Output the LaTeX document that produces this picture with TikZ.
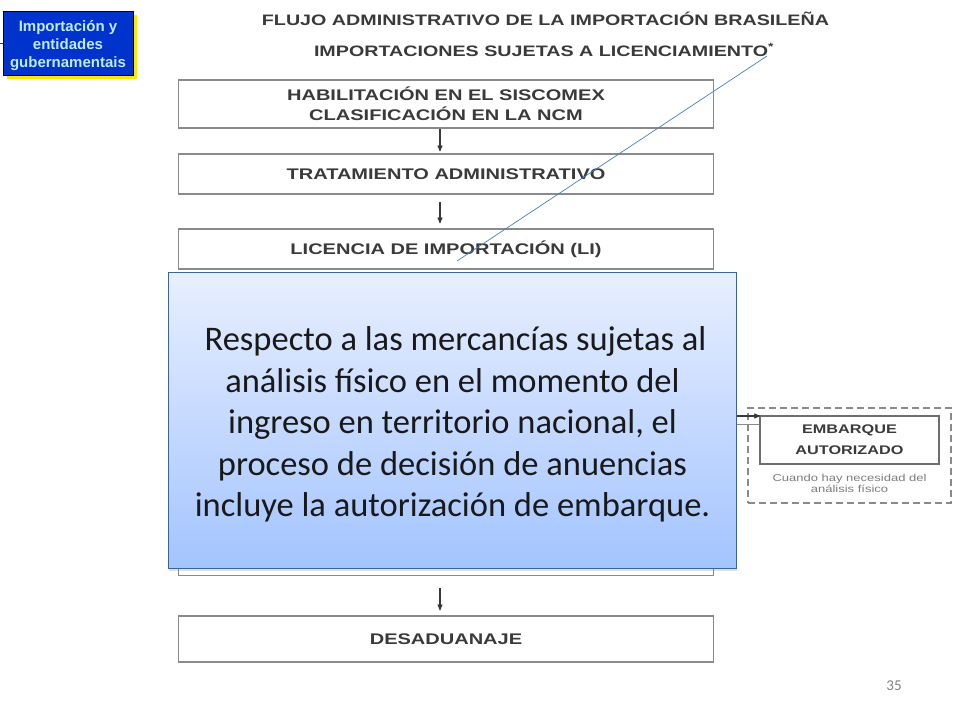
\documentclass[tikz,border=0pt]{standalone}
\usepackage{fontspec}
\setmainfont{Carlito}
\newfontfamily\scanfont[FakeStretch=1.3]{Liberation Sans}
\newfontfamily\badgefont{Liberation Sans}
\usetikzlibrary{arrows, positioning, shadows}

\definecolor{boxgray}{HTML}{8A8A8A}
\definecolor{scantext}{HTML}{3A3A3A}
\definecolor{badgeblue}{HTML}{0033CC}
\definecolor{badgetext}{HTML}{C0EAFF}
\definecolor{leaderblue}{HTML}{4A7EBB}
\definecolor{calltop}{HTML}{E8EFFF}
\definecolor{callbottom}{HTML}{A3C4FF}

\tikzset{
  flowbox/.style={draw=boxgray, line width=1.5pt, minimum width=535pt, text=scantext,
    align=center, font=\scanfont\bfseries\fontsize{15.4}{20}\selectfont},
  titletext/.style={text=scantext, font=\scanfont\bfseries\fontsize{15.15}{17}\selectfont},
  flowarrow/.style={draw=scantext, line width=1.1pt}
}

\begin{document}
\begin{tikzpicture}[->,>=stealth',x=1pt,y=-1pt]
  \useasboundingbox (0,0) rectangle (960,720);

  \node (badge) [draw=black, fill=badgeblue, minimum width=130pt, minimum height=64pt, inner sep=0pt,
    align=center, text=badgetext, font=\badgefont\bfseries\fontsize{15}{18}\selectfont,
    drop shadow={fill=yellow!90!orange, opacity=1, shadow xshift=4pt, shadow yshift=-4pt}] at (68,43)
    {\rule{0pt}{17pt}Importación y\\entidades\\gubernamentais};
  \coordinate (badgeleft) at (0,43);

  \node (title1) [titletext] at (545.5,19) {FLUJO ADMINISTRATIVO DE LA IMPORTACIÓN BRASILEÑA};
  \node (title2) [titletext] at (544,50) {IMPORTACIONES SUJETAS A LICENCIAMIENTO\textsuperscript{*}};

  \node (hab) [flowbox, minimum height=48pt] at (446,104) {HABILITACIÓN EN EL SISCOMEX\\CLASIFICACIÓN EN LA NCM};
  \node (trat) [flowbox, minimum height=40pt, below of=hab, node distance=70pt] {TRATAMIENTO ADMINISTRATIVO};
  \node (lic) [flowbox, minimum height=40pt, below of=trat, node distance=75pt] {LICENCIA DE IMPORTACIÓN (LI)};
  \node (anu) [flowbox, minimum height=285pt, below of=lic, node distance=184pt] {};
  \node (desa) [flowbox, minimum height=46pt, below of=anu, node distance=206pt] {DESADUANAJE};

  \node (embdash) [draw=boxgray, dash pattern=on 7pt off 4pt, line width=1.6pt, minimum width=203pt, minimum height=95pt] at (849.5,455.5) {};
  \node (emb) [draw=boxgray!80!black, line width=1.3pt, minimum width=179pt, minimum height=48pt, align=center,
    text=scantext, font=\scanfont\bfseries\fontsize{12.5}{21}\selectfont] at (849.5,440) {EMBARQUE\\AUTORIZADO};
  \node (embnote) [below=6pt of emb, align=center, text=boxgray!90!black,
    font=\scanfont\fontsize{10}{11.5}\selectfont] {Cuando hay necesidad del\\análisis físico};

  \coordinate (arrowfrom) at (anu.east |- 0,416);
  \coordinate (arrowto) at (760,416);
  \coordinate (linefrom) at (anu.east |- 0,424);
  \coordinate (lineto) at (emb.west |- 0,424);
  \coordinate (leadstart) at (767,56);
  \coordinate (leadend) at (457,261);

  \path [flowarrow] ([xshift=-6pt]hab.south) edge [shorten >=2pt] ([xshift=-6pt]trat.north)
        ([xshift=-6pt]trat.south) edge [shorten <=7pt, shorten >=5pt] ([xshift=-6pt]lic.north)
        ([xshift=-6pt]anu.south) edge [shorten <=12pt, shorten >=5pt] ([xshift=-6pt]desa.north)
        (arrowfrom) edge (arrowto);
  \draw [-, draw=boxgray, line width=0.8pt] (linefrom) -- (lineto);
  \draw [-, draw=scantext, line width=0.8pt] (badgeleft) -- (badge.west);
  \draw [-, draw=leaderblue, line width=0.7pt] (leadstart) -- (leadend);

  \node (call) [draw=leaderblue!80!black, line width=0.8pt, top color=calltop, bottom color=callbottom,
    minimum width=568pt, minimum height=296pt, align=center, text=black!90,
    drop shadow={opacity=0.25, shadow xshift=0pt, shadow yshift=-2pt},
    font=\fontsize{34.5}{41.5}\selectfont] at (452.5,420.5)
    {\rule{0pt}{32pt}\hspace*{6pt}Respecto a las mercancías sujetas al\\análisis físico en el momento del\\ingreso en territorio nacional, el\\proceso de decisión de anuencias\\incluye la autorización de embarque.};

  \node (page) [text=black!50, font=\fontsize{15}{17}\selectfont] at (894,686) {35};
\end{tikzpicture}
\end{document}
